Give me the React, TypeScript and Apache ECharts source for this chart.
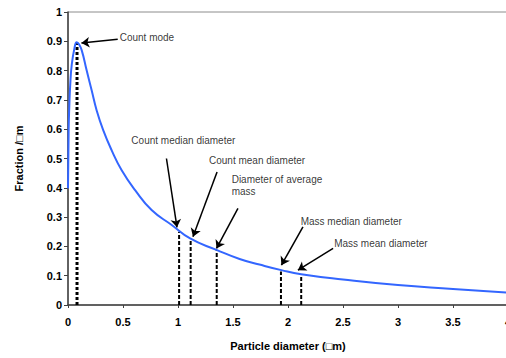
import React, { useEffect, useRef } from "react";
import * as echarts from "echarts";

// Size distribution curve (particle diameter in µm vs. fraction)
const curveX = [0, 0.006, 0.012, 0.02, 0.034, 0.058, 0.079, 0.1, 0.125, 0.17, 0.215, 0.26, 0.32, 0.397, 0.488, 0.61, 0.76, 0.943, 1.11, 1.35, 1.56, 1.74, 1.94, 2.12, 2.5, 3.0, 3.5, 4.0];
const curveY = [0.398, 0.6, 0.68, 0.75, 0.82, 0.875, 0.897, 0.89, 0.869, 0.8, 0.733, 0.665, 0.597, 0.528, 0.46, 0.392, 0.324, 0.273, 0.227, 0.188, 0.157, 0.138, 0.119, 0.105, 0.087, 0.068, 0.055, 0.042];

// Characteristic diameters (dashed verticals)
const markerNames = ["Count mode", "Count median diameter", "Count mean diameter", "Diameter of average\nmass", "Mass median diameter", "Mass mean diameter"];
const markerX = [0.082, 1.01, 1.115, 1.352, 1.936, 2.12];
const markerY = [0.895, 0.25, 0.227, 0.188, 0.114, 0.1];

// Annotation text anchors (left edge, vertical centre) in data units
const labelX = [0.47, 0.576, 1.282, 1.488, 2.115, 2.42];
const labelY = [0.913, 0.563, 0.494, 0.407, 0.286, 0.21];

// Arrow start/end in data units
const arrowFromX = [0.452, 0.895, 1.355, 1.545, 2.136, 2.41];
const arrowFromY = [0.907, 0.5, 0.454, 0.33, 0.267, 0.193];
const arrowToX = [0.122, 0.991, 1.136, 1.35, 1.94, 2.09];
const arrowToY = [0.894, 0.265, 0.233, 0.193, 0.136, 0.119];

const xTicks = [0, 0.5, 1, 1.5, 2, 2.5, 3, 3.5, 4];

const FONT = "'Liberation Sans', Arial, sans-serif";

export default function App() {
  const ref = useRef<HTMLDivElement>(null);
  useEffect(() => {
    if (!ref.current) return;
    const chart = echarts.init(ref.current, undefined, { renderer: "svg" });

    const markerSeries = markerX.map((x, i) => ({
      type: "line",
      data: [
        [x, 0],
        [x, markerY[i]],
      ],
      showSymbol: false,
      silent: true,
      z: 2,
      lineStyle: {
        color: "#000",
        width: i === 0 ? 3 : 2,
        type: i === 0 ? [3, 2] : [4, 2],
      },
    }));

    const option: any = {
      animation: false,
      backgroundColor: "#fff",
      grid: {
        left: 68,
        top: 12,
        width: 440,
        height: 293,
        containLabel: false,
        outerBoundsMode: "none",
        show: true,
        borderColor: "#8c8c8c",
        borderWidth: 1,
        backgroundColor: "transparent",
      },
      xAxis: {
        type: "value",
        min: 0,
        max: 4,
        interval: 0.5,
        name: "Particle diameter (\u25A1m)",
        nameLocation: "middle",
        nameGap: 35,
        nameTextStyle: { fontFamily: FONT, fontWeight: "bold", fontSize: 11, color: "#000" },
        splitLine: { show: false },
        axisLine: { lineStyle: { color: "#404040", width: 1.5 } },
        axisTick: { show: true, length: 3, inside: false, lineStyle: { color: "#404040", width: 1 } },
        axisLabel: {
          fontFamily: FONT,
          fontWeight: "bold",
          fontSize: 11,
          color: "#000",
          margin: 11,
          formatter: (v: number) => (xTicks.indexOf(v) >= 0 ? String(v) : ""),
        },
      },
      yAxis: {
        type: "value",
        min: 0,
        max: 1,
        interval: 0.1,
        name: "Fraction /\u25A1m",
        nameLocation: "middle",
        nameRotate: 90,
        nameGap: 44,
        nameTextStyle: { fontFamily: FONT, fontWeight: "bold", fontSize: 11, color: "#000" },
        splitLine: { show: false },
        axisLine: { show: true, lineStyle: { color: "#404040", width: 1.5 } },
        axisTick: { show: true, length: 4, lineStyle: { color: "#404040", width: 1 } },
        axisLabel: {
          fontFamily: FONT,
          fontWeight: "bold",
          fontSize: 11,
          color: "#000",
          margin: 6,
          formatter: (v: number) => String(Math.round(v * 10) / 10),
        },
      },
      series: [
        ...markerSeries,
        {
          type: "line",
          data: curveX.map((x, i) => [x, curveY[i]]),
          smooth: 0.5,
          showSymbol: false,
          silent: true,
          z: 3,
          lineStyle: { color: "#3366ff", width: 2 },
        },
        {
          type: "line",
          data: [],
          silent: true,
          z: 4,
          markLine: {
            silent: true,
            symbol: ["none", "arrow"],
            symbolSize: 8,
            label: { show: false },
            emphasis: { disabled: true },
            lineStyle: { color: "#000", width: 1.5, type: "solid" },
            data: arrowFromX.map((x, i) => [
              { coord: [x, arrowFromY[i]] },
              { coord: [arrowToX[i], arrowToY[i]] },
            ]),
          },
        },
        {
          type: "scatter",
          symbolSize: 0,
          silent: true,
          z: 5,
          data: labelX.map((x, i) => ({ value: [x, labelY[i]], name: markerNames[i] })),
          label: {
            show: true,
            position: "right",
            distance: 0,
            formatter: (p: any) => p.name,
            fontFamily: FONT,
            fontSize: 10,
            lineHeight: 12.5,
            color: "#000",
          },
        },
      ],
    };
    chart.setOption(option);
    return () => chart.dispose();
  }, []);

  return (
    <div style={{ position: "absolute", left: 0, top: 0, width: 506, height: 358, overflow: "hidden" }}>
      <div ref={ref} style={{ width: 506, height: 358 }} />
    </div>
  );
}
